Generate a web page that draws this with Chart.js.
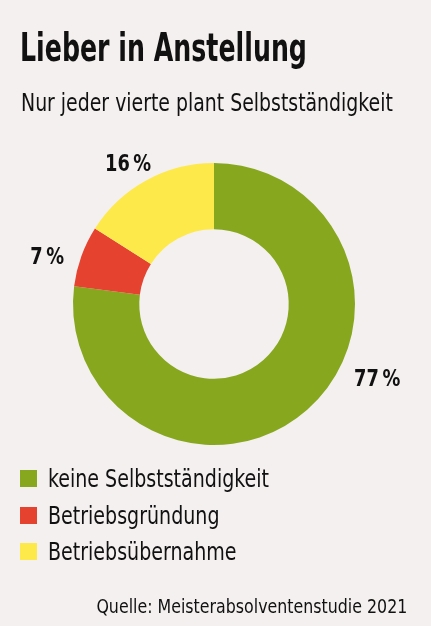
<!DOCTYPE html>
<html lang="de">
<head>
<meta charset="utf-8">
<title>Lieber in Anstellung</title>
<script src="https://cdn.jsdelivr.net/npm/chart.js@4.4.1/dist/chart.umd.min.js"></script>
<style>
  html, body {
    margin: 0;
    padding: 0;
    background: #f4f0ef;
  }
  .wrap {
    position: relative;
    width: 431px;
    height: 626px;
    overflow: hidden;
    font-family: "DejaVu Sans Condensed", "Liberation Sans Narrow", sans-serif;
    color: #111;
  }
  .chart-box {
    position: absolute;
    left: 0;
    top: 0;
    width: 431px;
    height: 626px;
  }
  h1, .subtitle, .source {
    white-space: nowrap;
  }
  h1 {
    position: absolute;
    left: 20px;
    top: 24px;
    margin: 0;
    font-size: 39px;
    font-weight: bold;
    line-height: 48px;
    transform: scaleX(0.72);
    transform-origin: left center;
  }
  .subtitle {
    position: absolute;
    left: 21px;
    top: 88px;
    margin: 0;
    font-size: 25px;
    line-height: 30px;
    transform: scaleX(0.84);
    transform-origin: left center;
  }
  .legend {
    position: absolute;
    left: 20px;
    top: 460px;
    margin: 0;
    padding: 0;
    list-style: none;
  }
  .legend li {
    position: relative;
    height: 36.5px;
    white-space: nowrap;
  }
  .legend li span.box {
    position: absolute;
    left: 0;
    top: 10px;
    width: 17px;
    height: 17px;
  }
  .legend li span.name {
    position: absolute;
    left: 28px;
    top: 0;
    font-size: 25.5px;
    line-height: 36px;
    transform: scaleX(0.83);
    transform-origin: left center;
  }
  .source {
    position: absolute;
    right: 24px;
    top: 593px;
    margin: 0;
    font-size: 20px;
    line-height: 26px;
    transform: scaleX(0.88);
    transform-origin: right center;
  }
</style>
</head>
<body>
<div class="wrap">
  <div class="chart-box"><canvas id="shareChart"></canvas></div>
  <h1>Lieber in Anstellung</h1>
  <p class="subtitle">Nur jeder vierte plant Selbstständigkeit</p>
  <ul class="legend" id="legend"></ul>
  <p class="source">Quelle: Meisterabsolventenstudie 2021</p>
</div>
<script>
const categories = ['keine Selbstständigkeit', 'Betriebsgründung', 'Betriebsübernahme'];
const shares = [77, 7, 16];
const sliceColors = ['#87a81e', '#e5422f', '#fee94b'];

// label placement around the ring: angle shift (deg) from slice middle, distance from centre
const labelSpots = [
  { shift: -23.6, dist: 180 },
  { shift: -4.4, dist: 173 },
  { shift: -3, dist: 163 },
];

const outsideLabels = {
  id: 'outsideLabels',
  afterDatasetsDraw(chart) {
    const { ctx } = chart;
    const arcs = chart.getDatasetMeta(0).data;
    ctx.save();
    ctx.font = 'bold 23px "DejaVu Sans Condensed", sans-serif';
    ctx.fillStyle = '#111';
    ctx.textAlign = 'center';
    ctx.textBaseline = 'middle';
    arcs.forEach((arc, i) => {
      const mid = (arc.startAngle + arc.endAngle) / 2 + labelSpots[i].shift * Math.PI / 180;
      const x = arc.x + Math.cos(mid) * labelSpots[i].dist;
      const y = arc.y + Math.sin(mid) * labelSpots[i].dist;
      ctx.save();
      ctx.translate(x, y);
      ctx.scale(0.86, 1); // narrow the type like the original
      ctx.fillText(shares[i] + '\u2009%', 0, 0);
      ctx.restore();
    });
    ctx.restore();
  }
};

document.addEventListener('DOMContentLoaded', () => {
  const canvas = document.getElementById('shareChart');

  new Chart(canvas, {
    type: 'doughnut',
    data: {
      labels: categories,
      datasets: [{
        data: shares,
        backgroundColor: sliceColors,
        borderWidth: 0,
      }],
    },
    options: {
      responsive: true,
      maintainAspectRatio: false,
      animation: false,
      cutout: '53%',
      layout: {
        padding: { left: 73, right: 76, top: 163, bottom: 181 },
      },
      plugins: {
        legend: { display: false },
        tooltip: { enabled: false },
      },
    },
    plugins: [outsideLabels],
  });

  // legend list
  const legend = document.getElementById('legend');
  categories.forEach((name, i) => {
    const li = document.createElement('li');
    const box = document.createElement('span');
    box.className = 'box';
    box.style.background = sliceColors[i];
    const label = document.createElement('span');
    label.className = 'name';
    label.textContent = name;
    li.appendChild(box);
    li.appendChild(label);
    legend.appendChild(li);
  });
});
</script>
</body>
</html>
